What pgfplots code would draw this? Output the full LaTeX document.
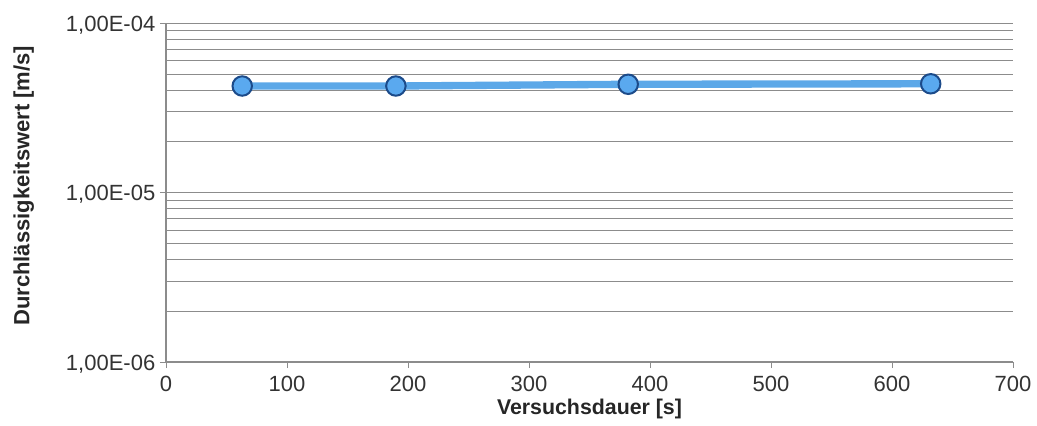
\documentclass[border=0pt]{standalone}
\usepackage{fontspec}
\setmainfont{Liberation Sans}
\usepackage{pgfplots}
\pgfplotsset{compat=1.18}
\definecolor{lineblue}{HTML}{5CA8E8}
\definecolor{markfill}{HTML}{5AA9EF}
\definecolor{markedge}{HTML}{1C4B8A}
\definecolor{gridgray}{HTML}{8C8C8C}
\begin{document}
\begin{tikzpicture}
\useasboundingbox (-124.5pt,-47.25pt) rectangle (653.25pt,271.5pt);
\begin{axis}[
  at={(0,0)}, anchor=south west,
  scale only axis, width=635.25pt, height=254.25pt,
  ymode=log, xmin=0, xmax=700, ymin=1e-6, ymax=1e-4,
  xtick={0,100,...,700},
  ytick={1e-6,1e-5,1e-4},
  yticklabels={{1,00E-06},{1,00E-05},{1,00E-04}},
  axis x line*=bottom, axis y line*=left,
  axis line style={draw=gridgray, line width=0.8pt, -},
  ymajorgrids, yminorgrids,
  major grid style={draw=gridgray, line width=0.7pt},
  minor grid style={draw=gridgray, line width=0.7pt},
  tick align=outside,
  major tick length=4.5pt, minor tick length=0pt,
  tick style={draw=gridgray, line width=0.7pt},
  xtick pos=bottom, ytick pos=left,
  /pgf/number format/assume math mode=true,
  tick label style={font=\fontsize{16.5}{18}\selectfont, text=black!80},
  xticklabel style={yshift=-2.5pt},
  yticklabel style={yshift=-1.5pt},
  xlabel={\textbf{Versuchsdauer [s]}},
  ylabel={\textbf{Durchlässigkeitswert [m/s]}},
  xlabel style={font=\fontsize{16}{18}\selectfont, text=black!85, at={(axis description cs:0.5,-0.139)}, anchor=center},
  ylabel style={font=\fontsize{16.5}{18}\selectfont, text=black!85, at={(axis description cs:-0.168,0.52)}, anchor=center, rotate=0},
  clip=false,
]
\addplot[color=lineblue, line width=5.5pt, mark=*, mark size=7.3pt,
  mark options={fill=markfill, draw=markedge, line width=1.5pt}]
  coordinates {(63,4.25e-5) (190,4.25e-5) (382,4.35e-5) (632,4.38e-5)};
\end{axis}
\end{tikzpicture}
\end{document}
